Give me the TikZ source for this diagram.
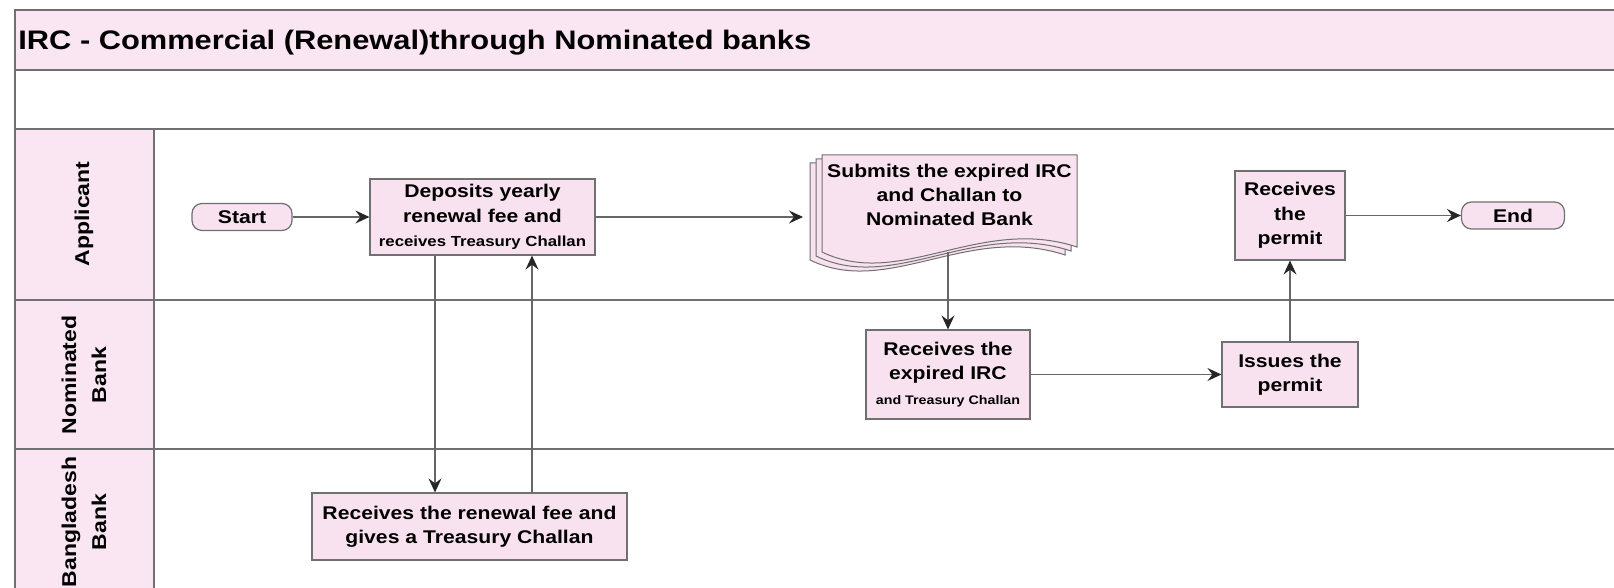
\documentclass[tikz,border=0pt]{standalone}
\usepackage{fontspec}
\setmainfont{Liberation Sans}[FakeStretch=1.15]
\usetikzlibrary{arrows.meta}
\definecolor{lanepink}{RGB}{250,230,242}
\definecolor{boxpink}{RGB}{249,226,239}
\definecolor{linegray}{RGB}{112,112,112}

\tikzset{
  lane/.style={draw=linegray, line width=0.8pt},
  task/.style={draw=linegray, fill=boxpink, line width=0.6pt, align=center,
    inner sep=1pt, font=\bfseries\fontsize{9.2}{12.2}\selectfont},
  terminal/.style={task, rounded corners=5pt, minimum height=13.5pt},
  page/.style={draw=linegray, fill=boxpink, line width=0.5pt},
  lanelabel/.style={rotate=90, align=center, font=\bfseries\fontsize{10}{15}\selectfont},
  flow/.style={draw=black!60, line width=0.6pt,
    -{Stealth[length=7pt, width=6.5pt, inset=2.5pt, color=black!85]}},
}

\begin{document}
\begin{tikzpicture}[x=0.5pt, y=-0.5pt]

  \newcommand\docpage[2]{%
    \begin{scope}[shift={(#1,#2)}]
      \draw[page] (822,155) -- (1077,155) -- (1077,247)
        .. controls (980,215) and (900,290) .. (822,252) -- cycle;
    \end{scope}}

  \useasboundingbox (0,0) rectangle (1614,588);
  \fill[white] (0,0) rectangle (1614,588);

  %% pool and lanes
  \fill[lanepink] (15,10) rectangle (1614,70);
  \fill[lanepink] (15,129) rectangle (154,588);
  \draw[lane] (1614,10) -- (15,10) -- (15,588);
  \foreach \y in {70,129,300,449}
    \draw[lane] (15,\y) -- (1614,\y);
  \draw[lane] (154,129) -- (154,588);

  \node[anchor=base west, inner sep=0, font=\bfseries\fontsize{13.4}{16}\selectfont]
    (title) at (18,50) {IRC - Commercial (Renewal)through Nominated banks};

  \node[lanelabel] (applicant) at (84,214) {Applicant};
  \node[lanelabel] (nombank) at (84,375) {Nominated\\Bank};
  \node[lanelabel] (bdbank) at (84,522) {Bangladesh\\Bank};

  %% Applicant
  \node[terminal, minimum width=50pt] (start) at (242,217) {Start};
  \node[task, minimum width=112.5pt, minimum height=38pt] (deposits) at (482.5,217)
    {Deposits yearly\\renewal fee and\\{\fontsize{7.3}{9}\selectfont receives Treasury Challan}};

  \docpage{-12}{8}
  \docpage{-6}{4}
  \docpage{0}{0}
  \node[align=center, inner sep=0, font=\bfseries\fontsize{9.2}{12.2}\selectfont]
    (submits) at (949.5,195) {Submits the expired IRC\\and Challan to\\Nominated Bank};
  \coordinate (docin) at (803,217);
  \coordinate (docout) at (948,252);

  \node[task, minimum width=55pt, minimum height=44.5pt] (recvpermit) at (1290,215.5)
    {Receives\\the\\permit};
  \node[terminal, minimum width=51.5pt] (end) at (1513,215.5) {End};

  %% Nominated Bank
  \node[task, minimum width=82pt, minimum height=44.5pt] (recvirc) at (948,374.5)
    {Receives the\\expired IRC\\{\fontsize{6.2}{8}\selectfont and Treasury Challan}};
  \node[task, minimum width=68pt, minimum height=32.5pt] (issues) at (1290,374.5)
    {Issues the\\permit};

  %% Bangladesh Bank
  \node[task, minimum width=157.5pt, minimum height=33.5pt] (recvfee) at (469.5,526.5)
    {Receives the renewal fee and\\gives a Treasury Challan};

  \coordinate (feedown) at (435,0);
  \coordinate (feeup) at (532,0);

  \draw[flow] (start) -- (deposits);
  \draw[flow] (deposits.east) -- (deposits.east -| docin); %% to the documents
  \draw[flow] (deposits.south -| feedown) -- (recvfee.north -| feedown);
  \draw[flow] (recvfee.north -| feeup) -- (deposits.south -| feeup);
  \draw[flow] (docout) -- (recvirc);
  \draw[flow] (recvirc) -- (issues);
  \draw[flow] (issues) -- (recvpermit);
  \draw[flow] (recvpermit) -- (end);
\end{tikzpicture}
\end{document}
